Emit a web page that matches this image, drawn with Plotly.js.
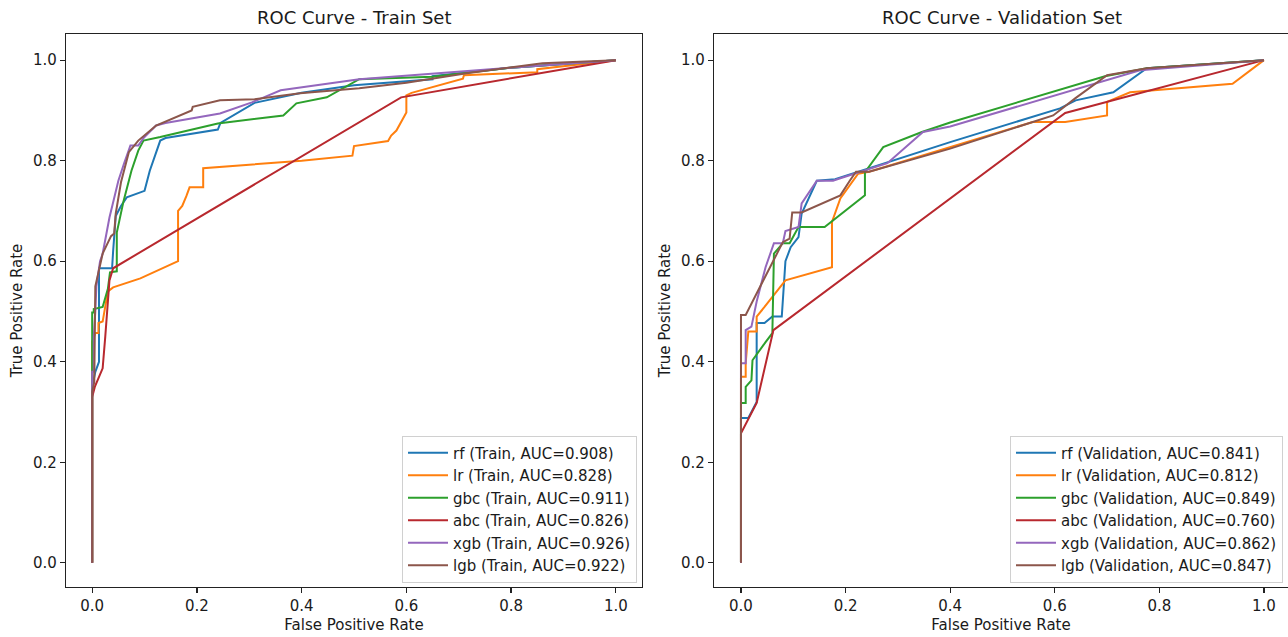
<!DOCTYPE html>
<html>
<head>
<meta charset="utf-8">
<script src="https://cdn.plot.ly/plotly-3.0.1.min.js"></script>
<style>html,body{margin:0;padding:0;background:#fff;}#chart{width:1288px;height:637px;}</style>
</head>
<body>
<div id="chart"></div>
<script>
// ---------- data ----------
const models = ["rf", "lr", "gbc", "abc", "xgb", "lgb"];
const trainAuc = ["0.908", "0.828", "0.911", "0.826", "0.926", "0.922"];
const valAuc = ["0.841", "0.812", "0.849", "0.760", "0.862", "0.847"];
const colors = ["#1f77b4", "#ff7f0e", "#2ca02c", "#b8282e", "#9467bd", "#8c564b"];
const tickVals = [0, 0.2, 0.4, 0.6, 0.8, 1.0];

// Train set ROC curves
const trainRfX = [0, 0, 0.006, 0.013, 0.013, 0.038, 0.040, 0.045, 0.055, 0.066, 0.100, 0.110, 0.130, 0.140, 0.240, 0.245, 0.310, 0.400, 0.500, 0.650, 0.650, 0.800, 1.0];
const trainRfY = [0, 0.35, 0.38, 0.40, 0.586, 0.586, 0.620, 0.690, 0.710, 0.727, 0.740, 0.780, 0.840, 0.845, 0.862, 0.875, 0.915, 0.935, 0.950, 0.962, 0.968, 0.985, 1.0];

const trainLrX = [0, 0, 0.006, 0.012, 0.012, 0.020, 0.030, 0.040, 0.092, 0.164, 0.164, 0.172, 0.180, 0.186, 0.212, 0.212, 0.400, 0.497, 0.500, 0.565, 0.571, 0.581, 0.600, 0.600, 0.610, 0.708, 0.710, 0.850, 0.850, 1.0];
const trainLrY = [0, 0.44, 0.457, 0.457, 0.477, 0.480, 0.540, 0.548, 0.566, 0.600, 0.700, 0.710, 0.730, 0.747, 0.747, 0.785, 0.800, 0.810, 0.829, 0.839, 0.850, 0.860, 0.896, 0.930, 0.935, 0.963, 0.970, 0.976, 0.982, 1.0];

const trainGbcX = [0, 0, 0.003, 0.003, 0.020, 0.030, 0.034, 0.047, 0.047, 0.060, 0.075, 0.088, 0.098, 0.130, 0.240, 0.365, 0.390, 0.448, 0.510, 0.650, 0.800, 1.0];
const trainGbcY = [0, 0.498, 0.498, 0.505, 0.509, 0.545, 0.578, 0.580, 0.657, 0.720, 0.780, 0.820, 0.840, 0.847, 0.874, 0.890, 0.914, 0.926, 0.962, 0.967, 0.985, 1.0];

const trainAbcX = [0, 0, 0.005, 0.020, 0.025, 0.033, 0.040, 0.590, 1.0];
const trainAbcY = [0, 0.33, 0.35, 0.387, 0.450, 0.562, 0.586, 0.926, 1.0];

const trainXgbX = [0, 0, 0.003, 0.003, 0.006, 0.008, 0.015, 0.020, 0.033, 0.050, 0.061, 0.073, 0.088, 0.098, 0.122, 0.140, 0.244, 0.305, 0.360, 0.510, 0.840, 1.0];
const trainXgbY = [0, 0.38, 0.38, 0.45, 0.50, 0.55, 0.60, 0.615, 0.687, 0.760, 0.795, 0.830, 0.830, 0.845, 0.870, 0.875, 0.894, 0.916, 0.940, 0.962, 0.988, 1.0];

const trainLgbX = [0, 0, 0.004, 0.005, 0.006, 0.020, 0.036, 0.042, 0.045, 0.055, 0.070, 0.088, 0.122, 0.190, 0.192, 0.244, 0.310, 0.397, 0.510, 0.600, 0.715, 0.860, 1.0];
const trainLgbY = [0, 0.34, 0.36, 0.45, 0.55, 0.615, 0.650, 0.655, 0.695, 0.757, 0.817, 0.840, 0.870, 0.900, 0.907, 0.920, 0.922, 0.934, 0.944, 0.955, 0.974, 0.994, 1.0];

// Validation set ROC curves
const valRfX = [0, 0, 0.014, 0.030, 0.030, 0.045, 0.060, 0.078, 0.085, 0.095, 0.110, 0.116, 0.145, 0.180, 0.400, 0.610, 0.640, 0.712, 0.776, 1.0];
const valRfY = [0, 0.288, 0.288, 0.320, 0.477, 0.477, 0.490, 0.490, 0.600, 0.628, 0.648, 0.695, 0.760, 0.763, 0.837, 0.904, 0.920, 0.936, 0.984, 1.0];

const valLrX = [0, 0, 0.009, 0.009, 0.014, 0.030, 0.030, 0.045, 0.085, 0.174, 0.174, 0.190, 0.224, 0.245, 0.558, 0.620, 0.700, 0.700, 0.744, 0.940, 1.0];
const valLrY = [0, 0.370, 0.370, 0.397, 0.460, 0.460, 0.490, 0.509, 0.562, 0.588, 0.678, 0.725, 0.774, 0.778, 0.877, 0.877, 0.890, 0.917, 0.936, 0.953, 1.0];

const valGbcX = [0, 0, 0.009, 0.009, 0.020, 0.022, 0.047, 0.060, 0.063, 0.080, 0.093, 0.110, 0.160, 0.237, 0.237, 0.272, 0.346, 0.400, 0.696, 0.776, 1.0];
const valGbcY = [0, 0.318, 0.318, 0.350, 0.363, 0.403, 0.439, 0.457, 0.615, 0.636, 0.636, 0.668, 0.668, 0.731, 0.777, 0.827, 0.857, 0.876, 0.968, 0.984, 1.0];

const valAbcX = [0, 0, 0.030, 0.062, 0.620, 1.0];
const valAbcY = [0, 0.258, 0.318, 0.463, 0.895, 1.0];

const valXgbX = [0, 0, 0.009, 0.009, 0.020, 0.030, 0.047, 0.063, 0.080, 0.085, 0.110, 0.116, 0.145, 0.176, 0.190, 0.280, 0.348, 0.400, 0.763, 1.0];
const valXgbY = [0, 0.397, 0.397, 0.463, 0.470, 0.520, 0.588, 0.636, 0.636, 0.660, 0.668, 0.715, 0.760, 0.760, 0.765, 0.795, 0.857, 0.868, 0.980, 1.0];

const valLgbX = [0, 0, 0.009, 0.080, 0.093, 0.098, 0.116, 0.190, 0.208, 0.220, 0.245, 0.400, 0.597, 0.639, 0.700, 0.776, 1.0];
const valLgbY = [0, 0.493, 0.493, 0.638, 0.645, 0.697, 0.697, 0.731, 0.760, 0.778, 0.778, 0.824, 0.890, 0.924, 0.970, 0.984, 1.0];

const trainX = [trainRfX, trainLrX, trainGbcX, trainAbcX, trainXgbX, trainLgbX];
const trainY = [trainRfY, trainLrY, trainGbcY, trainAbcY, trainXgbY, trainLgbY];
const valX = [valRfX, valLrX, valGbcX, valAbcX, valXgbX, valLgbX];
const valY = [valRfY, valLrY, valGbcY, valAbcY, valXgbY, valLgbY];

// ---------- traces ----------
const FONT = "DejaVu Sans, Arial, sans-serif";
const traces = [];
models.forEach((m, i) => {
  traces.push({
    x: trainX[i], y: trainY[i], type: "scatter", mode: "lines",
    name: m + " (Train, AUC=" + trainAuc[i] + ")",
    line: {color: colors[i], width: 2},
    xaxis: "x", yaxis: "y", legend: "legend", hoverinfo: "skip"
  });
});
models.forEach((m, i) => {
  traces.push({
    x: valX[i], y: valY[i], type: "scatter", mode: "lines",
    name: m + " (Validation, AUC=" + valAuc[i] + ")",
    line: {color: colors[i], width: 2},
    xaxis: "x2", yaxis: "y2", legend: "legend2", hoverinfo: "skip"
  });
});

// ---------- layout ----------
const W = 1288;
function axisBase(extra) {
  return Object.assign({
    showgrid: false, zeroline: false,
    showline: true, mirror: true, linecolor: "#222", linewidth: 1.2,
    ticks: "outside", ticklen: 5, tickwidth: 1.2, tickcolor: "#222",
    tickvals: tickVals, tickformat: ".1f",
    tickfont: {family: FONT, size: 15, color: "#1a1a1a"},
    automargin: false
  }, extra);
}
const legendBase = {
  font: {family: FONT, size: 15, color: "#1a1a1a"},
  bgcolor: "rgba(255,255,255,0.85)", bordercolor: "#d0d0d0", borderwidth: 1,
  xanchor: "right", yanchor: "bottom", itemwidth: 40, tracegroupgap: 0
};
const layout = {
  width: 1288, height: 637,
  margin: {l: 0, r: 0, t: 34, b: 50, pad: 0},
  paper_bgcolor: "#ffffff", plot_bgcolor: "#ffffff",
  font: {family: FONT, color: "#1a1a1a"},
  showlegend: true,
  xaxis: axisBase({domain: [66 / W, 642 / W], range: [-0.05, 1.05], anchor: "y",
    title: {text: "False Positive Rate", font: {family: FONT, size: 15, color: "#1a1a1a"}, standoff: 5}}),
  yaxis: axisBase({domain: [0, 1], range: [-0.048, 1.052], anchor: "x",
    title: {text: "True Positive Rate", font: {family: FONT, size: 15, color: "#1a1a1a"}, standoff: 6}}),
  xaxis2: axisBase({domain: [714 / W, 1.0], range: [-0.0516, 1.046], anchor: "y2",
    title: {text: "False Positive Rate", font: {family: FONT, size: 15, color: "#1a1a1a"}, standoff: 5}}),
  yaxis2: axisBase({domain: [0, 1], range: [-0.048, 1.052], anchor: "x2",
    title: {text: "True Positive Rate", font: {family: FONT, size: 15, color: "#1a1a1a"}, standoff: 6}}),
  legend: Object.assign({x: 637 / W, y: 0.008}, legendBase),
  legend2: Object.assign({x: 1283 / W, y: 0.008}, legendBase),
  annotations: [
    {text: "ROC Curve - Train Set", xref: "paper", yref: "paper", x: (66 + 642) / 2 / W, y: 1,
     xanchor: "center", yanchor: "bottom", yshift: 4, showarrow: false,
     font: {family: FONT, size: 18, color: "#1a1a1a"}},
    {text: "ROC Curve - Validation Set", xref: "paper", yref: "paper", x: (714 + 1290) / 2 / W, y: 1,
     xanchor: "center", yanchor: "bottom", yshift: 4, showarrow: false,
     font: {family: FONT, size: 18, color: "#1a1a1a"}}
  ]
};

Plotly.newPlot("chart", traces, layout, {displayModeBar: false, staticPlot: true});
</script>
</body>
</html>
